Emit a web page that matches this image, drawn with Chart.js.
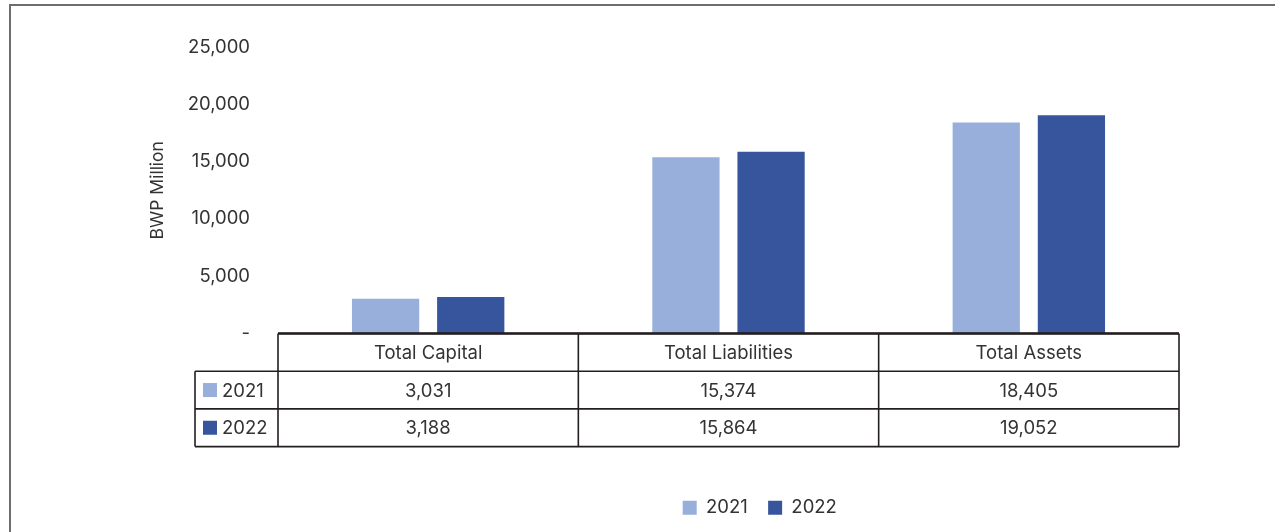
<!DOCTYPE html>
<html>
<head>
<meta charset="utf-8">
<script src="https://cdn.jsdelivr.net/npm/chart.js@4"></script>
<style>
  html, body { margin: 0; padding: 0; background: #fff; overflow: hidden; }
  #frame { position: absolute; left: 9px; top: 4px; width: 1400px; height: 600px;
           border-left: 2px solid #6d6d6d; border-top: 2px solid #6d6d6d; }
  #wrap { position: absolute; left: 0; top: 0; width: 1275px; height: 532px; }
</style>
</head>
<body>
<div id="frame"></div>
<div id="wrap"><canvas id="myChart" width="1275" height="532"></canvas></div>
<script>
const categories = ['Total Capital', 'Total Liabilities', 'Total Assets'];
const years = ['2021', '2022'];
const values2021 = [3031, 15374, 18405];
const values2022 = [3188, 15864, 19052];
const yMax = 25000;
const yStep = 5000;

const colors = ['#97afda', '#37559d'];
const textColor = '#333333';
const fontFamily = 'Inter, "Noto Sans", sans-serif';
const fontSize = 18.5;
const series = [values2021, values2022];

// draws the data table under the plot area
const dataTable = {
  id: 'dataTable',
  afterDraw(chart) {
    const { ctx, chartArea, scales: { x } } = chart;
    const colW = x.width / categories.length;
    const left = chartArea.left;
    const right = chartArea.right;
    const keyLeft = 195;
    const rowH = 37.7;
    const top = chartArea.bottom;
    const rows = [top, top + rowH, top + rowH * 2, top + rowH * 3];

    ctx.save();
    ctx.strokeStyle = '#231f20';
    ctx.lineWidth = 1.6;
    ctx.beginPath();
    ctx.moveTo(left, rows[0]); ctx.lineTo(right, rows[0]);
    for (let r = 1; r < rows.length; r++) {
      ctx.moveTo(keyLeft, rows[r]); ctx.lineTo(right, rows[r]);
    }
    for (let i = 0; i <= categories.length; i++) {
      const cx = left + colW * i;
      ctx.moveTo(cx, rows[0]); ctx.lineTo(cx, rows[3]);
    }
    ctx.moveTo(keyLeft, rows[1]); ctx.lineTo(keyLeft, rows[3]);
    ctx.stroke();
    // axis line is a bit heavier
    ctx.lineWidth = 2.4;
    ctx.beginPath();
    ctx.moveTo(left, rows[0]); ctx.lineTo(right, rows[0]);
    ctx.stroke();

    ctx.fillStyle = textColor;
    ctx.font = fontSize + 'px ' + fontFamily;
    ctx.textAlign = 'center';
    ctx.textBaseline = 'middle';
    categories.forEach((c, i) => {
      const cx = x.getPixelForValue(i);
      ctx.fillText(c, cx, (rows[0] + rows[1]) / 2 + 1);
      series.forEach((vals, s) => {
        ctx.fillText(vals[i].toLocaleString('en-US'), cx, (rows[s + 1] + rows[s + 2]) / 2 + 1);
      });
    });

    ctx.textAlign = 'left';
    years.forEach((y, s) => {
      const cy = (rows[s + 1] + rows[s + 2]) / 2;
      ctx.fillStyle = colors[s];
      ctx.fillRect(203, cy - 7, 14, 14);
      ctx.fillStyle = textColor;
      ctx.fillText(y, 222, cy + 1);
    });
    ctx.restore();
  }
};

// moves the legend so it sits centred under the plot
const legendShift = {
  id: 'legendShift',
  afterLayout(chart) {
    const l = chart.legend;
    const d = 765 - (l.left + l.right) / 2;
    l.left += d;
    l.right += d;
  }
};

const ctx = document.getElementById('myChart').getContext('2d');
const myChart = new Chart(ctx, {
  type: 'bar',
  data: {
    labels: categories,
    datasets: years.map((y, s) => ({
      label: y,
      data: series[s],
      backgroundColor: colors[s],
      borderWidth: 0,
      categoryPercentage: 0.567,
      barPercentage: 0.79
    }))
  },
  options: {
    responsive: false,
    animation: false,
    layout: { padding: { left: 147, right: 96, top: 47, bottom: 5 } },
    scales: {
      x: {
        grid: { display: false },
        border: { display: false },
        ticks: { display: false },
        afterFit: (s) => { s.height = 155; }
      },
      y: {
        min: 0,
        max: yMax,
        grid: { display: false, drawTicks: false },
        border: { display: false },
        afterFit: (s) => { s.width = 131; },
        ticks: {
          stepSize: yStep,
          padding: 28,
          color: textColor,
          font: { family: fontFamily, size: fontSize },
          callback: (v) => v === 0 ? '-' : v.toLocaleString('en-US')
        },
        title: {
          display: true,
          text: 'BWP Million',
          color: textColor,
          padding: 0,
          font: { family: fontFamily, size: 17.5 }
        }
      }
    },
    plugins: {
      legend: {
        position: 'bottom',
        labels: {
          color: textColor,
          boxWidth: 14,
          boxHeight: 14,
          padding: 10,
          font: { family: fontFamily, size: fontSize },
          generateLabels: (chart) => Chart.defaults.plugins.legend.labels.generateLabels(chart)
            .map((item) => Object.assign(item, { text: item.text + '  ' }))
        }
      },
      tooltip: { enabled: false }
    }
  },
  plugins: [dataTable, legendShift]
});
</script>
</body>
</html>
